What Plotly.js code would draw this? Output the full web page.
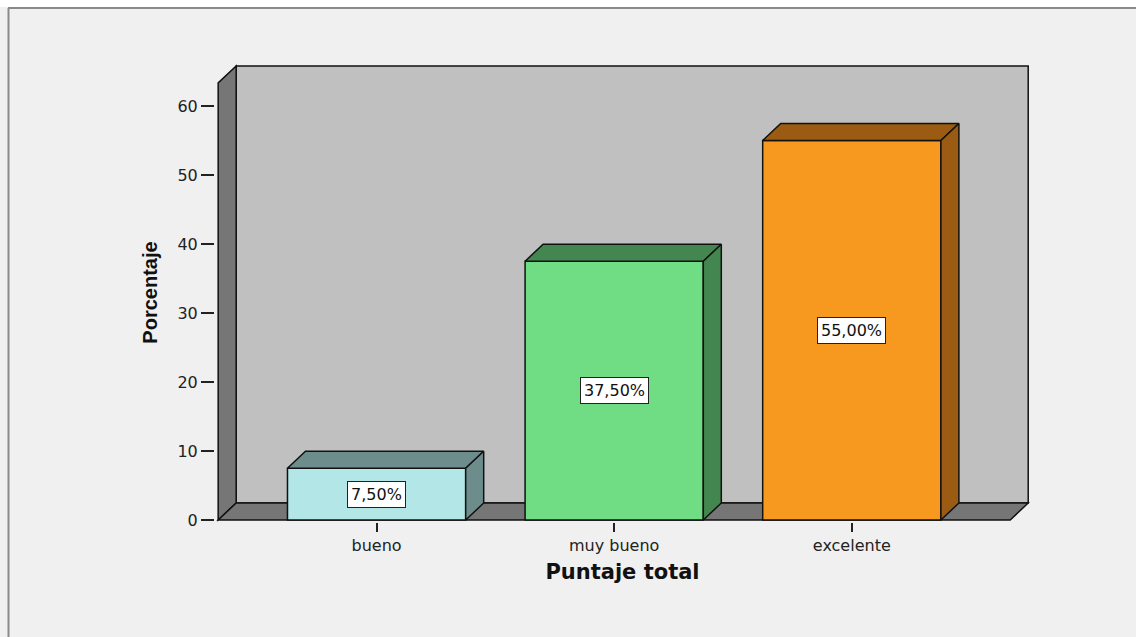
<!DOCTYPE html>
<html>
<head>
<meta charset="utf-8">
<script src="https://cdn.plot.ly/plotly-3.0.1.min.js"></script>
<style>
  html, body { margin: 0; padding: 0; background: #f0f0f0; }
  #chart { width: 1136px; height: 637px; }
</style>
</head>
<body>
<div id="chart"></div>
<script>
// ---- data ----
const categories = ['bueno', 'muy bueno', 'excelente'];
const percentages = [7.5, 37.5, 55.0];
const valueLabels = ['7,50%', '37,50%', '55,00%'];
const yTickValues = [0, 10, 20, 30, 40, 50, 60];

// ---- styles ----
const frontColors = ['#b3e6e7', '#70dd85', '#f8991f'];
const sideColors = ['#6d8d8d', '#43864f', '#9b5b13'];
const WALL_BACK = '#c0c0c0';
const WALL_DARK = '#767676';
const EDGE = '#111111';

// ---- geometry ----
const W = 1136, H = 637;
const PLOT = { left: 215, right: 1030, top: 63, bottom: 522 };
const X_RANGE = [-0.68, 2.75];
const Y_RANGE = [-0.29, 66.23];
const BAR_W = 0.75;
const DX = 0.0758, DY = 2.46;          // 3-D depth offset in axis units
const FLOOR_X0 = -2 / 3, FLOOR_X1 = 8 / 3;
const WALL_TOP = 65.8;

const xIdx = categories.map((_, i) => i);

const traces = [];
// front faces
traces.push({
  type: 'bar',
  x: xIdx,
  y: percentages,
  width: BAR_W,
  marker: { color: frontColors, line: { color: EDGE, width: 1.5 } },
  hoverinfo: 'x+y',
  showlegend: false
});
// top and right faces
xIdx.forEach((i, k) => {
  const v = percentages[k];
  const a = i - BAR_W / 2, b = i + BAR_W / 2;
  traces.push({
    type: 'scatter', mode: 'lines', fill: 'toself',
    x: [a, b, b + DX, a + DX, a],
    y: [v, v, v + DY, v + DY, v],
    fillcolor: sideColors[k], line: { color: EDGE, width: 1.5 },
    hoverinfo: 'skip', showlegend: false
  });
  traces.push({
    type: 'scatter', mode: 'lines', fill: 'toself',
    x: [b, b + DX, b + DX, b, b],
    y: [0, DY, v + DY, v, 0],
    fillcolor: sideColors[k], line: { color: EDGE, width: 1.5 },
    hoverinfo: 'skip', showlegend: false
  });
});

const px2x = px => (px - PLOT.left) / (PLOT.right - PLOT.left);
const py2y = py => (PLOT.bottom - py) / (PLOT.bottom - PLOT.top);

const shapes = [
  // back wall
  { type: 'rect', layer: 'below', xref: 'x', yref: 'y',
    x0: FLOOR_X0 + DX, x1: FLOOR_X1 + DX, y0: DY, y1: WALL_TOP,
    fillcolor: WALL_BACK, line: { color: EDGE, width: 1.5 } },
  // left wall
  { type: 'path', layer: 'below', xref: 'x', yref: 'y',
    path: `M ${FLOOR_X0},0 L ${FLOOR_X0 + DX},${DY} L ${FLOOR_X0 + DX},${WALL_TOP} L ${FLOOR_X0},${WALL_TOP - DY} Z`,
    fillcolor: WALL_DARK, line: { color: EDGE, width: 1.5 } },
  // floor
  { type: 'path', layer: 'below', xref: 'x', yref: 'y',
    path: `M ${FLOOR_X0},0 L ${FLOOR_X1},0 L ${FLOOR_X1 + DX},${DY} L ${FLOOR_X0 + DX},${DY} Z`,
    fillcolor: WALL_DARK, line: { color: EDGE, width: 1.5 } },
  // white strip at top of the (cropped) picture
  { type: 'rect', layer: 'below', xref: 'paper', yref: 'paper',
    x0: px2x(-5), x1: px2x(W + 5), y0: py2y(7), y1: py2y(-5),
    fillcolor: '#ffffff', line: { width: 0 } },
  // frame lines
  { type: 'line', layer: 'below', xref: 'paper', yref: 'paper',
    x0: px2x(8), x1: px2x(W + 5), y0: py2y(8), y1: py2y(8),
    line: { color: '#8a8a8a', width: 2 } },
  { type: 'line', layer: 'below', xref: 'paper', yref: 'paper',
    x0: px2x(8.5), x1: px2x(8.5), y0: py2y(8), y1: py2y(H + 5),
    line: { color: '#8a8a8a', width: 2 } }
];

const annotations = xIdx.map((i, k) => ({
  x: i, y: percentages[k] / 2, xref: 'x', yref: 'y',
  text: valueLabels[k], showarrow: false,
  bgcolor: '#ffffff', bordercolor: '#222222', borderwidth: 1, borderpad: 3,
  font: { family: 'DejaVu Sans, Verdana, sans-serif', size: 16, color: '#111111' }
}));

const layout = {
  width: W, height: H,
  margin: { l: PLOT.left, r: W - PLOT.right, t: PLOT.top, b: H - PLOT.bottom, pad: 0 },
  paper_bgcolor: '#f0f0f0',
  plot_bgcolor: 'rgba(0,0,0,0)',
  showlegend: false,
  xaxis: {
    range: X_RANGE, fixedrange: true,
    tickvals: xIdx, ticktext: categories,
    ticks: 'outside', ticklen: 9, tickwidth: 1.5, tickcolor: '#222222',
    showgrid: false, zeroline: false, showline: false,
    tickfont: { family: 'DejaVu Sans, Verdana, sans-serif', size: 16, color: '#222222' },
    title: { text: 'Puntaje total', standoff: 10,
      font: { family: 'DejaVu Sans, Verdana, sans-serif', size: 21, weight: 'bold', color: '#111111' } }
  },
  yaxis: {
    range: Y_RANGE, fixedrange: true,
    tickvals: yTickValues,
    ticks: 'outside', ticklen: 13, tickwidth: 1.5, tickcolor: '#222222',
    showgrid: false, zeroline: false, showline: false,
    tickfont: { family: 'DejaVu Sans, Verdana, sans-serif', size: 16, color: '#222222' },
    title: { text: 'Porcentaje', standoff: 14,
      font: { family: 'Liberation Sans, Arial, sans-serif', size: 20, weight: 'bold', color: '#111111' } }
  },
  shapes: shapes,
  annotations: annotations
};

Plotly.newPlot('chart', traces, layout, { displayModeBar: false });
</script>
</body>
</html>
